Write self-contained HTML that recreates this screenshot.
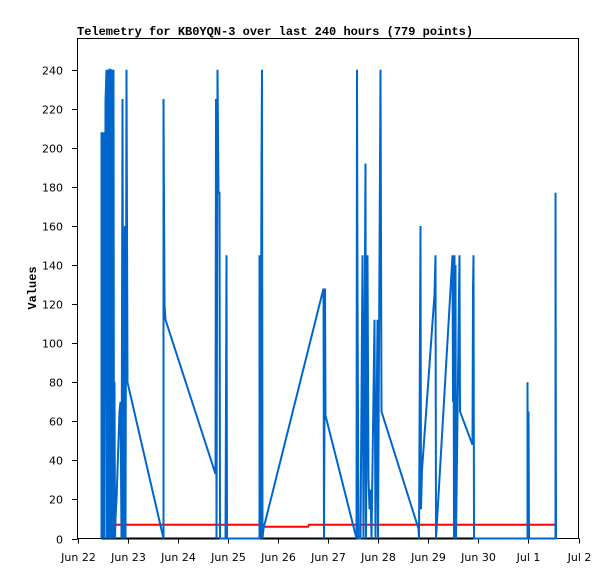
<!DOCTYPE html>
<html><head><meta charset="utf-8"><style>
body{margin:0;background:#fff;}
svg{display:block;font-family:"DejaVu Sans","Liberation Sans",sans-serif;}
</style></head><body>
<svg id="chart" width="615" height="579" xmlns="http://www.w3.org/2000/svg">
<rect x="0" y="0" width="615" height="579" fill="#fff"/>
<text x="77" y="35" font-family="Liberation Mono, monospace" font-weight="bold" font-size="12">Telemetry for KB0YQN-3 over last 240 hours (779 points)</text>
<text transform="translate(36,288) rotate(-90)" text-anchor="middle" font-family="Liberation Mono, monospace" font-weight="bold" font-size="12">Values</text>
<rect x="77.5" y="38.5" width="501" height="500" fill="#fff" stroke="#000"/>
<g id="grid"></g>
<g id="series"></g>
</svg>
<script>
const xTickLabels=["Jun 22","Jun 23","Jun 24","Jun 25","Jun 26","Jun 27","Jun 28","Jun 29","Jun 30","Jul 1","Jul 2"];
const yTicks=[0,20,40,60,80,100,120,140,160,180,200,220,240];
const blueDays=[0.479,0.479,0.499,0.519,0.539,0.559,0.579,0.589,0.599,0.619,0.629,0.639,0.659,0.669,0.679,0.699,0.709,0.719,0.729,0.739,0.749,0.758,0.778,0.798,0.818,0.838,0.858,0.878,0.898,0.918,0.928,0.948,0.958,0.978,0.998,1.717,1.717,1.737,1.756,2.754,2.764,2.774,2.794,2.814,2.834,2.844,2.954,2.964,2.974,2.984,3.633,3.633,3.653,3.673,3.683,3.693,3.713,4.91,4.92,4.94,4.95,5.569,5.579,5.589,5.599,5.609,5.649,5.689,5.699,5.709,5.749,5.759,5.788,5.808,5.828,5.848,5.868,5.928,5.948,5.988,5.998,6.048,6.068,6.806,6.816,6.846,6.856,6.876,7.126,7.146,7.156,7.485,7.495,7.505,7.515,7.525,7.535,7.545,7.555,7.625,7.635,7.884,7.894,7.904,7.914,8.982,8.982,8.992,9.002,9.012,9.541,9.541,9.551];
const blueValues=[0,208,0,208,0,224,240,0,208,240,0,240,240,0,240,224,0,240,0,80,0,10,20,35,50,65,70,0,225,0,145,160,0,240,80,0,225,120,112,33,225,0,240,177,177,0,0,72,145,0,0,145,0,192,240,0,5,128,0,128,63,0,240,128,64,0,0,145,63,0,192,0,145,30,15,25,0,112,0,112,0,240,65,5,0,160,15,35,125,145,0,145,70,145,0,145,0,140,0,145,65,48,128,145,0,0,80,0,65,0,0,177,0];
const redDays=[0.76,3.7,3.72,4.6,4.62,9.55];
const redValues=[7,7,6,6,7,7];
const blackDays=[0.479,9.551];
const blackValues=[0,0];
const X0=77.5,X1=578.5,Y0=538.5,Y1=38.5,DAYS=10,VMAX=256;
const xs=d=>X0+(d/DAYS)*(X1-X0);
const ys=v=>Y0-(v/VMAX)*(Y0-Y1);
const NS="http://www.w3.org/2000/svg";
const g=document.getElementById('grid'),s=document.getElementById('series');
function mk(t,a,p){const e=document.createElementNS(NS,t);for(const k in a)e.setAttribute(k,a[k]);p.appendChild(e);return e;}
yTicks.forEach(v=>{
 const y=Math.round(ys(v))+0.5;
 const l=mk('line',{x1:72,x2:X0,y1:y,y2:y,stroke:'#000'},g);
 
 
 const t=mk('text',{x:63,y:y+4,'text-anchor':'end','font-size':11},g);
 
 
 t.textContent=v;
});
xTickLabels.forEach((lab,i)=>{
 const x=Math.round(xs(i))+0.5;
 const l=mk('line',{x1:x,x2:x,y1:Y0,y2:Y0+5,stroke:'#000'},g);
 
 
 const t=mk('text',{x:x,y:561,'text-anchor':'middle','font-size':11},g);
 
 
 t.textContent=lab;
});
function line(days,vals,color,w,name){
 const pts=days.map((d,i)=>xs(d).toFixed(1)+','+ys(vals[i]).toFixed(1)).join(' ');
 const p=mk('polyline',{points:pts,fill:'none',stroke:color,'stroke-width':w,'stroke-linejoin':'miter'},s);
 
 
}
line(blackDays,blackValues,'#000',2,'black-series-line');
line(redDays,redValues,'#ff0000',2,'red-series-line');
line(blueDays,blueValues,'#0066cc',2,'blue-series-line');
</script>
</body></html>
